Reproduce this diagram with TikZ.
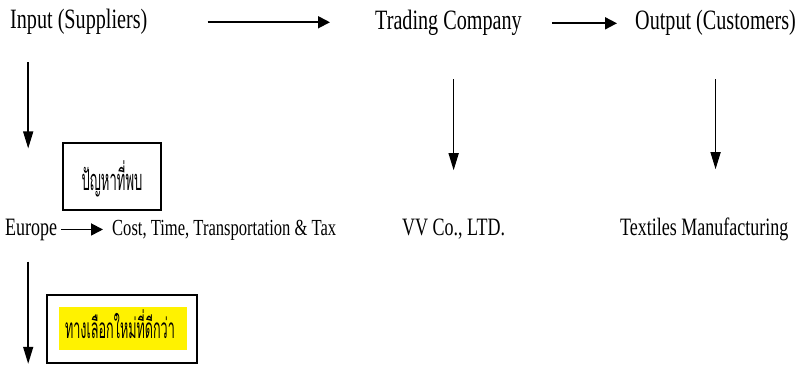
\documentclass[tikz,border=0pt]{standalone}
\usepackage{fontspec}
\setmainfont{Liberation Serif}[FakeStretch=0.72]
\newfontfamily\thaifont[Script=Thai,FakeStretch=0.45]{Loma}
\usetikzlibrary{arrows.meta}
\begin{document}
\begin{tikzpicture}[x=1pt,y=-1pt,
  lbl/.style={inner sep=0pt,anchor=base west,font=\fontsize{25}{30}\selectfont},
  toplbl/.style={lbl,font=\fontsize{28}{32}\selectfont},
  harr/.style={line width=1.8pt,-{Triangle[length=12pt,width=12pt]}},
  varr/.style={line width=1.4pt,-{Triangle[length=17pt,width=10pt]}},
  tbox/.style={draw,line width=1.6pt,inner sep=0pt},
  thai/.style={inner sep=0pt,anchor=base,font=\fontsize{28}{30}\thaifont}]
\useasboundingbox (0,0) rectangle (799,366);
% top row
\node[toplbl] (input) at (10,29) {Input (Suppliers)};
\node[toplbl] (trading) at (375,30) {Trading Company};
\node[toplbl] (output) at (635,30) {Output (Customers)};
% bottom row
\node[lbl] (europe) at (5,235) {Europe};
\node[lbl,font=\fontsize{23}{26}\selectfont] (cost) at (112,235) {Cost, Time, Transportation \& Tax};
\node[lbl] (vv) at (402,235) {VV Co., LTD.};
\node[lbl] (textiles) at (620,235) {Textiles Manufacturing};
% thai boxes
\node[tbox,minimum width=98pt,minimum height=67pt] (prob) at (112,176.5) {};
\node[thai,font=\fontsize{29}{30}\thaifont] (probtxt) at (112,190) {ปัญหาที่พบ};
\node[tbox,minimum width=150pt,minimum height=68pt] (altbox) at (122,329) {};
\node[fill=yellow,inner sep=0pt,minimum width=128pt,minimum height=43pt] (alt) at (123,328.5) {};
\node[thai] (alttxt) at (120,338) {ทางเลือกใหม่ที่ดีกว่า};
% arrows
\draw[harr,shorten <=60pt,shorten >=45pt] (input.east) -- (input.east -| trading.west);
\draw[harr,shorten <=30pt,shorten >=18pt] (trading.east) -- (trading.east -| output.west);
\draw[harr,shorten <=4pt,shorten >=9pt] (europe.east) -- (europe.east -| cost.west);
\draw[varr,shorten <=43pt,shorten >=48pt] (vv.north |- trading.south) -- (vv.north);
\draw[varr,shorten <=43pt,shorten >=48pt] (output.south) -- (output.south |- textiles.north);
\draw[varr,shorten <=27pt,shorten >=70pt] ([xshift=-3pt]europe.north |- input.south) -- ([xshift=-3pt]europe.north);
\draw[varr,shorten <=21pt] ([xshift=-3pt]europe.south) -- ([xshift=-3pt]europe.south |- altbox.south);
\end{tikzpicture}
\end{document}
